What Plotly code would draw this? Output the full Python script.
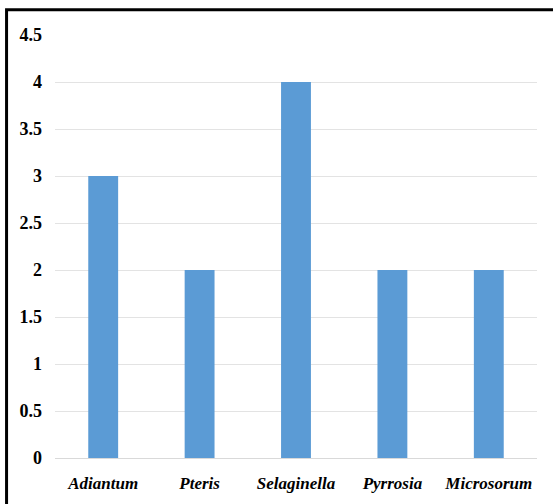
import plotly.graph_objects as go

categories = ["Adiantum", "Pteris", "Selaginella", "Pyrrosia", "Microsorum"]
values = [3, 2, 4, 2, 2]
y_ticks = [0, 0.5, 1, 1.5, 2, 2.5, 3, 3.5, 4, 4.5]

SERIF = "Liberation Serif, Times New Roman, serif"

fig = go.Figure(go.Bar(x=categories, y=values, marker_color="#5B9BD5", marker_line_width=0))

fig.update_layout(
    width=553, height=504,
    margin=dict(l=55, r=16, t=35, b=46),
    paper_bgcolor="white", plot_bgcolor="white",
    bargap=0.69,
    showlegend=False,
    shapes=[dict(type="rect", xref="paper", yref="paper",
                 x0=-0.1005, x1=1.06, y0=-0.15, y1=1.0595,
                 line=dict(color="black", width=3), layer="above")],
)
fig.update_xaxes(
    tickfont=dict(family=SERIF, size=17, color="black", weight="bold", style="italic"),
    showgrid=False, showline=True, linecolor="#d9d9d9", linewidth=1, ticks="",
    ticklabelstandoff=10,
)
fig.update_yaxes(
    range=[0, 4.5], tickvals=y_ticks, ticktext=[f"{v:g}" for v in y_ticks],
    tickfont=dict(family=SERIF, size=18, color="black", weight="bold"),
    showgrid=True, gridcolor="#e3e3e3", gridwidth=1, zeroline=False, ticks="", ticklen=0,
    ticklabelstandoff=12,
)
fig.write_html("out.html", config={"displayModeBar": False},
               post_script="document.body.style.margin='0';document.body.style.overflow='hidden';")
